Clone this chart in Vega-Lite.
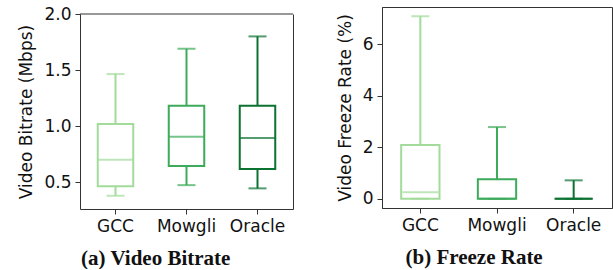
{
  "$schema": "https://vega.github.io/schema/vega-lite/v6.json",
  "padding": {"left": 17, "top": 5, "right": 5, "bottom": 0},
  "background": "white",
  "datasets": {
    "bitrate": [
      {"method": "GCC", "lower": 0.378, "q1": 0.464, "median": 0.70, "q3": 1.018, "upper": 1.464},
      {"method": "Mowgli", "lower": 0.473, "q1": 0.643, "median": 0.905, "q3": 1.181, "upper": 1.69},
      {"method": "Oracle", "lower": 0.444, "q1": 0.616, "median": 0.893, "q3": 1.181, "upper": 1.80}
    ],
    "freeze": [
      {"method": "GCC", "lower": 0, "q1": 0, "median": 0.26, "q3": 2.09, "upper": 7.10},
      {"method": "Mowgli", "lower": 0, "q1": 0, "median": 0, "q3": 0.76, "upper": 2.79},
      {"method": "Oracle", "lower": 0, "q1": 0, "median": 0, "q3": 0, "upper": 0.72}
    ],
    "frame": [{"top": 2.0}]
  },
  "config": {
    "font": "DejaVu Sans",
    "view": {"stroke": "#333", "strokeWidth": 1},
    "axis": {
      "labelFont": "DejaVu Sans", "labelFontSize": 17, "labelColor": "#111",
      "titleFont": "DejaVu Sans", "titleFontSize": 17, "titleFontWeight": "normal", "titleColor": "#111",
      "domainColor": "#333", "tickColor": "#333", "tickSize": 5, "grid": false, "labelPadding": 4
    },
    "title": {"font": "Liberation Serif", "fontSize": 21, "fontWeight": "bold", "color": "#111", "orient": "bottom", "offset": 14, "anchor": "middle", "frame": "bounds"}
  },
  "spacing": 41,
  "hconcat": [
    {
      "width": 213, "height": 202,
      "view": {"stroke": null},
      "title": {"text": "(a) Video Bitrate"},
      "resolve": {"axis": {"y": "independent"}},
      "layer": [
        {"data": {"name": "bitrate"},
         "mark": {"type": "rule", "strokeWidth": 2},
         "encoding": {
           "x": {"field": "method", "type": "nominal", "sort": ["GCC", "Mowgli", "Oracle"],
                 "scale": {"paddingInner": 0, "paddingOuter": 0},
                 "axis": {"title": null, "labelAngle": 0}},
           "color": {"field": "method", "type": "nominal", "legend": null,
                     "scale": {"domain": ["GCC", "Mowgli", "Oracle"], "range": ["#a3db9b", "#3dab5a", "#0b7232"]}},
           "y": {"field": "lower", "type": "quantitative",
             "scale": {"domain": [0.26, 2.0], "nice": false, "zero": false, "range": [202, 7]},
             "axis": {"title": "Video Bitrate (Mbps)", "values": [0.5, 1.0, 1.5, 2.0], "format": ".1f", "titlePadding": 8}},
           "y2": {"field": "q1"}}},
        {"data": {"name": "bitrate"},
         "mark": {"type": "rule", "strokeWidth": 2},
         "encoding": {
           "x": {"field": "method", "type": "nominal", "sort": ["GCC", "Mowgli", "Oracle"]},
           "color": {"field": "method", "type": "nominal", "legend": null},
           "y": {"field": "q3", "type": "quantitative", "axis": null}, "y2": {"field": "upper"}}},
        {"data": {"name": "bitrate"},
         "mark": {"type": "bar", "width": {"band": 0.5}, "fill": "white", "fillOpacity": 0, "strokeWidth": 2},
         "encoding": {
           "x": {"field": "method", "type": "nominal", "sort": ["GCC", "Mowgli", "Oracle"]},
           "y": {"field": "q1", "type": "quantitative", "axis": null}, "y2": {"field": "q3"},
           "stroke": {"field": "method", "type": "nominal", "legend": null,
             "scale": {"domain": ["GCC", "Mowgli", "Oracle"], "range": ["#a3db9b", "#3dab5a", "#0b7232"]}}}},
        {"data": {"name": "bitrate"},
         "mark": {"type": "tick", "size": 36, "thickness": 2},
         "encoding": {
           "x": {"field": "method", "type": "nominal", "sort": ["GCC", "Mowgli", "Oracle"]},
           "color": {"field": "method", "type": "nominal", "legend": null},
           "y": {"field": "median", "type": "quantitative", "axis": null}}},
        {"data": {"name": "bitrate"},
         "mark": {"type": "tick", "size": 18, "thickness": 2},
         "encoding": {
           "x": {"field": "method", "type": "nominal", "sort": ["GCC", "Mowgli", "Oracle"]},
           "color": {"field": "method", "type": "nominal", "legend": null},
           "y": {"field": "lower", "type": "quantitative", "axis": null}}},
        {"data": {"name": "bitrate"},
         "mark": {"type": "tick", "size": 18, "thickness": 2},
         "encoding": {
           "x": {"field": "method", "type": "nominal", "sort": ["GCC", "Mowgli", "Oracle"]},
           "color": {"field": "method", "type": "nominal", "legend": null},
           "y": {"field": "upper", "type": "quantitative", "axis": null}}},
        {"data": {"name": "frame"},
         "mark": {"type": "rule", "color": "#333", "strokeWidth": 1},
         "encoding": {
           "y": {"field": "top", "type": "quantitative",
             "axis": {"orient": "right", "labels": false, "ticks": false, "title": null, "domain": true}}}}
      ]
    },
    {
      "width": 230, "height": 201,
      "data": {"name": "freeze"},
      "title": {"text": "(b) Freeze Rate"},
      "encoding": {
        "x": {"field": "method", "type": "nominal", "sort": ["GCC", "Mowgli", "Oracle"],
              "scale": {"paddingInner": 0, "paddingOuter": 0},
              "axis": {"title": null, "labelAngle": 0}},
        "color": {"field": "method", "type": "nominal", "legend": null,
                  "scale": {"domain": ["GCC", "Mowgli", "Oracle"], "range": ["#a3db9b", "#3dab5a", "#0b7232"]}}
      },
      "layer": [
        {"mark": {"type": "rule", "strokeWidth": 2},
         "encoding": {"y": {"field": "lower", "type": "quantitative",
           "scale": {"domain": [-0.355, 7.455], "nice": false, "zero": false},
           "axis": {"title": "Video Freeze Rate (%)", "values": [0, 2, 4, 6], "format": "d", "titlePadding": 8}},
           "y2": {"field": "q1"}}},
        {"mark": {"type": "rule", "strokeWidth": 2},
         "encoding": {"y": {"field": "q3", "type": "quantitative"}, "y2": {"field": "upper"}}},
        {"mark": {"type": "bar", "width": {"band": 0.5}, "fill": "white", "fillOpacity": 0, "strokeWidth": 2},
         "encoding": {"y": {"field": "q1", "type": "quantitative"}, "y2": {"field": "q3"},
                      "stroke": {"field": "method", "type": "nominal", "legend": null,
                        "scale": {"domain": ["GCC", "Mowgli", "Oracle"], "range": ["#a3db9b", "#3dab5a", "#0b7232"]}}}},
        {"mark": {"type": "tick", "size": 36, "thickness": 2},
         "encoding": {"y": {"field": "median", "type": "quantitative"}}},
        {"mark": {"type": "tick", "size": 18, "thickness": 2},
         "encoding": {"y": {"field": "lower", "type": "quantitative"}}},
        {"mark": {"type": "tick", "size": 18, "thickness": 2},
         "encoding": {"y": {"field": "upper", "type": "quantitative"}}}
      ]
    }
  ]
}
